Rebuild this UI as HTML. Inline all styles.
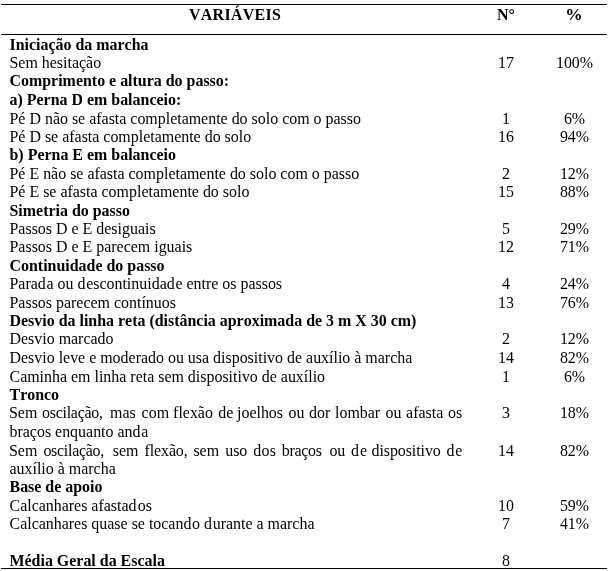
<!DOCTYPE html>
<html><head><meta charset="utf-8">
<style>
html,body{margin:0;padding:0;background:#fff;}
body{width:609px;height:571px;overflow:hidden;position:relative;font-family:"Liberation Serif",serif;font-size:15.95px;color:#000;font-kerning:none;font-variant-ligatures:none;}
.hl{position:absolute;left:1px;width:606px;height:1px;background:#000;}
.r,.n,.p{position:absolute;height:18px;line-height:18px;white-space:pre;}
.r{left:9.5px;}
.b{font-weight:bold;}
u{text-decoration:none;letter-spacing:0.7px;}
.w{position:absolute;left:0;width:480px;height:18px;line-height:18px;white-space:nowrap;}
.w span{position:absolute;top:0;}
.n{width:60px;left:476px;text-align:center;}
.p{width:70px;left:539.5px;text-align:center;}
</style></head><body>
<div class="hl" style="top:4px"></div>
<div class="hl" style="top:34px"></div>
<div class="hl" style="top:568px"></div>
<div class="r b" style="top:6px;left:189px;letter-spacing:0.3px">VARIÁVEIS</div>
<div class="n b" style="top:6px">N°</div>
<div class="p b" style="top:6px;left:539px;transform:scaleX(1.09)">%</div>
<div class="r b" style="top:35.67px">Iniciação da marcha</div>
<div class="r" style="top:53.67px">Sem hesitação</div>
<div class="n" style="top:53.67px">17</div>
<div class="p" style="top:53.67px">100%</div>
<div class="r b" style="top:71.67px">Comprimento e altura do passo:</div>
<div class="r b" style="top:90.67px">a) Perna D em balanceio:</div>
<div class="r" style="top:109.67px">Pé D não se afasta completamente do solo com o passo</div>
<div class="n" style="top:109.67px">1</div>
<div class="p" style="top:109.67px">6%</div>
<div class="r" style="top:127.67px">Pé D se afasta completamente do solo</div>
<div class="n" style="top:127.67px">16</div>
<div class="p" style="top:127.67px">94%</div>
<div class="r b" style="top:145.67px">b) Perna E em balanceio</div>
<div class="r" style="top:164.67px">Pé E não se afasta completamente do solo com o passo</div>
<div class="n" style="top:164.67px">2</div>
<div class="p" style="top:164.67px">12%</div>
<div class="r" style="top:182.67px">Pé E se afasta completamente do solo</div>
<div class="n" style="top:182.67px">15</div>
<div class="p" style="top:182.67px">88%</div>
<div class="r b" style="top:201.67px">Simetria do passo</div>
<div class="r" style="top:219.67px">Passos D e E desiguais</div>
<div class="n" style="top:219.67px">5</div>
<div class="p" style="top:219.67px">29%</div>
<div class="r" style="top:237.67px">Passos D e E parecem iguais</div>
<div class="n" style="top:237.67px">12</div>
<div class="p" style="top:237.67px">71%</div>
<div class="r b" style="top:256.67px">Continuidade do passo</div>
<div class="r" style="top:274.67px">Para<u>d</u>a ou <u>d</u>escontinuida<u>d</u>e entre os passos</div>
<div class="n" style="top:274.67px">4</div>
<div class="p" style="top:274.67px">24%</div>
<div class="r" style="top:293.67px">Passos parecem contínuos</div>
<div class="n" style="top:293.67px">13</div>
<div class="p" style="top:293.67px">76%</div>
<div class="r b" style="top:311.67px">Desvio da linha reta (distância aproximada de 3 m X 30 cm)</div>
<div class="r" style="top:329.67px">Desvio marcado</div>
<div class="n" style="top:329.67px">2</div>
<div class="p" style="top:329.67px">12%</div>
<div class="r" style="top:348.67px">Desvio leve e moderado ou usa dispositivo de auxílio à marcha</div>
<div class="n" style="top:348.67px">14</div>
<div class="p" style="top:348.67px">82%</div>
<div class="r" style="top:367.67px">Caminha em linha reta sem dispositivo de auxílio</div>
<div class="n" style="top:367.67px">1</div>
<div class="p" style="top:367.67px">6%</div>
<div class="r b" style="top:385.67px">Tronco</div>
<div class="w" style="top:403.67px"><span style="left:9.0px">Sem</span> <span style="left:42.1px;letter-spacing:-0.27px">oscilação,</span> <span style="left:110.1px">mas</span> <span style="left:141.6px">com</span> <span style="left:173.1px">flexão</span> <span style="left:218.3px">de</span> <span style="left:237.0px">joelhos</span> <span style="left:288.6px">ou</span> <span style="left:309.1px">dor</span> <span style="left:335.0px">lombar</span> <span style="left:385.6px">ou</span> <span style="left:406.1px">afasta</span> <span style="left:448.0px">os</span></div>
<div class="n" style="top:403.67px">3</div>
<div class="p" style="top:403.67px">18%</div>
<div class="r" style="top:422.67px">braços enquanto an<u>d</u>a</div>
<div class="w" style="top:441.67px"><span style="left:9.0px">Sem</span> <span style="left:43.4px;letter-spacing:-0.27px">oscilação,</span> <span style="left:112.8px">sem</span> <span style="left:144.5px;letter-spacing:-0.1px">flexão,</span> <span style="left:193.4px">sem</span> <span style="left:225.2px">uso</span> <span style="left:253.3px;letter-spacing:0.3px">dos</span> <span style="left:281.7px;letter-spacing:-0.25px">braços</span> <span style="left:329.4px">ou</span> <span style="left:351.1px;letter-spacing:0.9px">de</span> <span style="left:371.5px;letter-spacing:-0.07px">dispositivo</span> <span style="left:446.6px;letter-spacing:0.7px">de</span></div>
<div class="n" style="top:441.67px">14</div>
<div class="p" style="top:441.67px">82%</div>
<div class="r" style="top:459.67px">auxílio à marcha</div>
<div class="r b" style="top:477.67px">Base de apoio</div>
<div class="r" style="top:496.67px">Calcanhares afasta<u style="letter-spacing:1.2px">d</u>os</div>
<div class="n" style="top:496.67px">10</div>
<div class="p" style="top:496.67px">59%</div>
<div class="r" style="top:514.67px">Calcanhares quase se tocan<u>d</u>o <u>d</u>urante a marcha</div>
<div class="n" style="top:514.67px">7</div>
<div class="p" style="top:514.67px">41%</div>
<div class="r b" style="top:551.67px">Média Geral da Escala</div>
<div class="n" style="top:551.67px">8</div>
</body></html>
